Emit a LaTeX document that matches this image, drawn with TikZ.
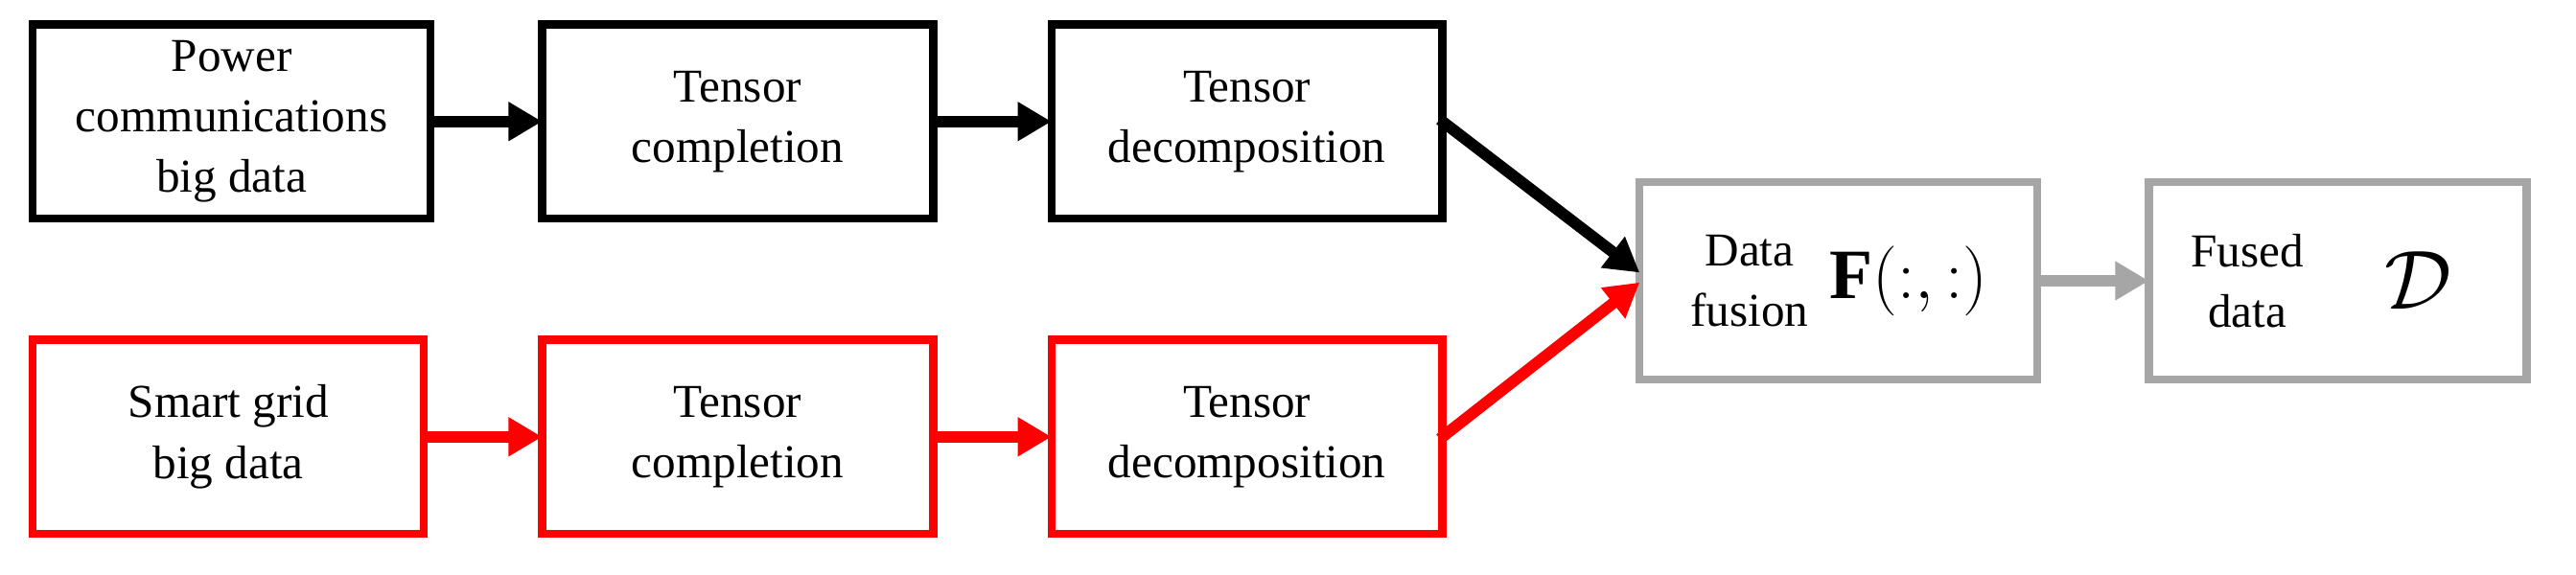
\documentclass[tikz,border=0pt]{standalone}
\usepackage{fontspec}
\setmainfont{Liberation Serif}
\usepackage{amsmath}
\usetikzlibrary{arrows.meta}
\begin{document}
\begin{tikzpicture}[x=0.017136cm,y=-0.017136cm,
  bx/.style={line width=2.4pt},
  lbl/.style={align=center,font=\fontsize{14}{18}\selectfont},
  ar/.style={line width=3.4pt,-{Triangle[length=10pt,width=11pt]},shorten <=-1pt}]
\useasboundingbox (0,0) rectangle (1568,350);
\draw[bx,draw=black] (20,15) rectangle (262,133) node[midway,lbl] {Power\\communications\\big data};
\draw[bx,draw=black] (330,15) rectangle (568,133) node[midway,lbl] {Tensor\\completion};
\draw[bx,draw=black] (640,15) rectangle (878,133) node[midway,lbl] {Tensor\\decomposition};
\draw[bx,draw=red] (20,207) rectangle (258,325) node[midway,lbl] {Smart grid\\big data};
\draw[bx,draw=red] (330,207) rectangle (568,325) node[midway,lbl] {Tensor\\completion};
\draw[bx,draw=red] (640,207) rectangle (878,325) node[midway,lbl] {Tensor\\decomposition};
\draw[bx,draw=black!35] (998,111) rectangle (1240,231);
\node[lbl] (df) at (1065,171) {Data\\fusion};
\node[font=\fontsize{21}{24}\selectfont] (F) at (1162,171) {$\mathbf{F}(:,:)$};
\draw[bx,draw=black!35] (1308,111) rectangle (1538,231);
\node[lbl] (fd) at (1368,171) {Fused\\data};
\node[font=\fontsize{30}{32}\selectfont] (D) at (1472,171) {$\mathcal{D}$};
\coordinate (p1) at (262,74); \coordinate (q1) at (330,74);
\coordinate (p2) at (568,74); \coordinate (q2) at (640,74);
\coordinate (p3) at (878,74); \coordinate (q3) at (998,166);
\coordinate (r1) at (258,266); \coordinate (s1) at (330,266);
\coordinate (r2) at (568,266); \coordinate (s2) at (640,266);
\coordinate (r3) at (878,266); \coordinate (s3) at (998,172);
\coordinate (g1) at (1240,171); \coordinate (g2) at (1308,171);
\draw[ar] (p1) -- (q1); \draw[ar] (p2) -- (q2); \draw[ar] (p3) -- (q3);
\draw[ar,red] (r1) -- (s1); \draw[ar,red] (r2) -- (s2); \draw[ar,red] (r3) -- (s3);
\draw[ar,black!35] (g1) -- (g2);
\end{tikzpicture}
\end{document}
